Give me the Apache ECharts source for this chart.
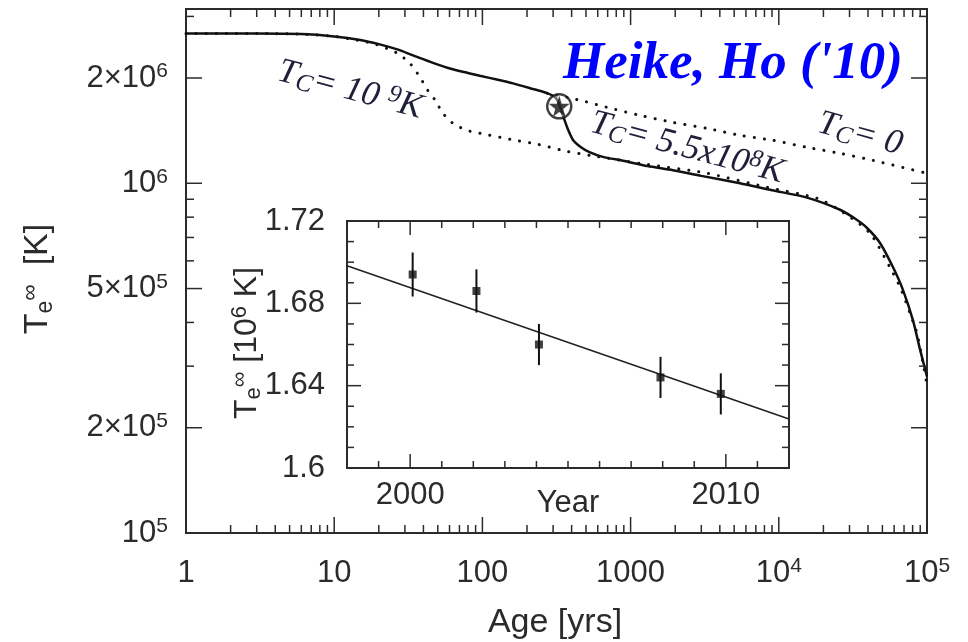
<!DOCTYPE html>
<html>
<head>
<meta charset="utf-8">
<script src="https://cdn.jsdelivr.net/npm/echarts@6/dist/echarts.min.js"></script>
<style>
  html, body { margin: 0; padding: 0; background: #fff; }
  #chart { width: 968px; height: 642px; }
</style>
</head>
<body>
<div id="chart"></div>
<script>
// ---------- main panel: neutron-star cooling curves (age in yr, T_e^inf in K) ----------
const ageRange = [1, 1e5];
const tempRange = [1e5, 3.15e6];

// T_C = 5.5e8 K (solid)
const solidAge  = [1, 3, 6, 10, 15, 20, 27, 34, 45, 58, 75, 96, 125, 161, 210, 273, 310, 330, 350, 372, 409, 460, 532, 650, 889, 1300, 1930, 3000, 5470, 9000, 15500, 25900, 33000, 39400, 48200, 59000, 68900, 80500, 89700, 100000];
const solidTemp = [2.68e6, 2.68e6, 2.67e6, 2.63e6, 2.57e6, 2.50e6, 2.41e6, 2.32e6, 2.22e6, 2.14e6, 2.08e6, 2.03e6, 1.98e6, 1.93e6, 1.87e6, 1.81e6, 1.76e6, 1.68e6, 1.56e6, 1.45e6, 1.33e6, 1.27e6, 1.225e6, 1.19e6, 1.16e6, 1.12e6, 1.09e6, 1.05e6, 1.0e6, 0.955e6, 0.91e6, 0.84e6, 0.79e6, 0.745e6, 0.675e6, 0.575e6, 0.495e6, 0.405e6, 0.335e6, 0.28e6];

// T_C = 1e9 K (dotted)
const tc9Age  = [1, 3, 6, 10, 14, 18.3, 22.7, 26.9, 32.5, 37.9, 42.9, 47.9, 54.2, 63.4, 78.8, 96.4, 154, 237, 372, 532, 1157, 3280, 8320, 18100, 27100, 41200, 56200, 65800, 76800, 85500, 94000, 100000];
const tc9Temp = [2.68e6, 2.68e6, 2.67e6, 2.63e6, 2.57e6, 2.51e6, 2.43e6, 2.35e6, 2.20e6, 2.01e6, 1.84e6, 1.73e6, 1.585e6, 1.483e6, 1.417e6, 1.39e6, 1.336e6, 1.292e6, 1.234e6, 1.202e6, 1.14e6, 1.068e6, 0.974e6, 0.906e6, 0.826e6, 0.72e6, 0.575e6, 0.505e6, 0.425e6, 0.373e6, 0.306e6, 0.265e6];

// T_C = 0 (dotted, no superfluidity)
const tc0Age  = [273, 456, 693, 1157, 1932, 3280, 5470, 9140, 15500, 25900, 43200, 100000];
const tc0Temp = [1.81e6, 1.727e6, 1.649e6, 1.564e6, 1.493e6, 1.436e6, 1.371e6, 1.327e6, 1.267e6, 1.218e6, 1.163e6, 1.068e6];

// Cas A
const casAAge = [330];
const casATemp = [1.66e6];

// main axis ticks
const ageMajorTicks = [1, 10, 100, 1000, 10000, 100000];
const ageTickLabels = ['1', '10', '100', '1000', '10{s|4}', '10{s|5}'];
const ageMinorTicks = [2, 3, 4, 5, 6, 7, 8, 9,
  20, 30, 40, 50, 60, 70, 80, 90,
  200, 300, 400, 500, 600, 700, 800, 900,
  2000, 3000, 4000, 5000, 6000, 7000, 8000, 9000,
  20000, 30000, 40000, 50000, 60000, 70000, 80000, 90000];
const tempMajorTicks = [1e5, 2e5, 5e5, 1e6, 2e6];
const tempTickLabels = ['10{s|5}', '2×10{s|5}', '5×10{s|5}', '10{s|6}', '2×10{s|6}'];
const tempMinorTicks = [3e5, 4e5, 6e5, 7e5, 8e5, 9e5, 3e6];

// ---------- inset: Cas A temperature vs. year (10^6 K) ----------
const yearRange = [1998, 2012];
const insetTempRange = [1.6, 1.72];
const obsYear = [2000.08, 2002.10, 2004.08, 2007.93, 2009.84];
const obsTemp = [1.694, 1.686, 1.660, 1.644, 1.636];
const obsErr  = [0.0107, 0.0105, 0.0100, 0.0100, 0.0100];
const fitYear = [1998, 2012];
const fitTemp = [1.6983, 1.6238];

const yearMajorTicks = [2000, 2010];
const yearTickLabels = ['2000', '2010'];
const yearMinorTicks = [1999, 2001, 2002, 2003, 2004, 2005, 2006, 2007, 2008, 2009, 2011];
const insetTempMajorTicks = [1.6, 1.64, 1.68, 1.72];
const insetTempTickLabels = ['1.6', '1.64', '1.68', '1.72'];
const insetTempMinorTicks = [1.61, 1.62, 1.63, 1.65, 1.66, 1.67, 1.69, 1.70, 1.71];

// ---------- styling ----------
const SANS = 'Liberation Sans';
const SERIF = 'Liberation Serif';
const INK = '#2b2b2b';
const ANNOT = '#20203a';

const TICK_RICH = {
  s: { fontSize: 21, fontFamily: SANS, fill: INK, verticalAlign: 'top', lineHeight: 14 }
};
const TITLE_RICH = {
  m: { fontSize: 34, fontFamily: SANS, fill: INK, lineHeight: 38 },
  b: { fontSize: 23, fontFamily: SANS, fill: INK, verticalAlign: 'bottom', lineHeight: 15 },
  p: { fontSize: 23, fontFamily: SANS, fill: INK, verticalAlign: 'top', lineHeight: 15 }
};
const INSET_TITLE_RICH = {
  m: { fontSize: 32, fontFamily: SANS, fill: INK, lineHeight: 36 },
  b: { fontSize: 22, fontFamily: SANS, fill: INK, verticalAlign: 'bottom', lineHeight: 14 },
  p: { fontSize: 22, fontFamily: SANS, fill: INK, verticalAlign: 'top', lineHeight: 14 }
};
const NOTE_RICH = {
  m: { fontSize: 35, fontFamily: SERIF, fontStyle: 'italic', fill: ANNOT, lineHeight: 38 },
  b: { fontSize: 25, fontFamily: SERIF, fontStyle: 'italic', fill: ANNOT, verticalAlign: 'bottom', lineHeight: 14 },
  p: { fontSize: 25, fontFamily: SERIF, fontStyle: 'italic', fill: ANNOT, verticalAlign: 'top', lineHeight: 14 }
};

const pairs = (xs, ys) => xs.map((x, i) => [x, ys[i]]);

// inward ticks on all four sides of a grid; orient 0 = x tick, 1 = y tick
function frameTicks(gi, xr, yr, xTicks, yTicks, len) {
  const data = xTicks.map(v => [v, yr[0], 0]).concat(yTicks.map(v => [xr[0], v, 1]));
  return {
    type: 'custom', xAxisIndex: gi, yAxisIndex: gi, silent: true, z: 6, clip: false,
    data: data,
    renderItem(params, api) {
      const o = api.value(2);
      const st = { stroke: INK, lineWidth: 1.5 };
      if (o === 0) {
        const a = api.coord([api.value(0), yr[0]]);
        const b = api.coord([api.value(0), yr[1]]);
        return { type: 'group', children: [
          { type: 'line', shape: { x1: a[0], y1: a[1], x2: a[0], y2: a[1] - len }, style: st },
          { type: 'line', shape: { x1: b[0], y1: b[1], x2: b[0], y2: b[1] + len }, style: st }
        ] };
      }
      const a = api.coord([xr[0], api.value(1)]);
      const b = api.coord([xr[1], api.value(1)]);
      return { type: 'group', children: [
        { type: 'line', shape: { x1: a[0], y1: a[1], x2: a[0] + len, y2: a[1] }, style: st },
        { type: 'line', shape: { x1: b[0], y1: b[1], x2: b[0] - len, y2: b[1] }, style: st }
      ] };
    }
  };
}

// tick labels placed at axis coordinates
function tickLabels(gi, pts, texts, offX, offY, align) {
  return {
    type: 'custom', xAxisIndex: gi, yAxisIndex: gi, silent: true, z: 6, clip: false,
    data: pts.map((p, i) => [p[0], p[1], i]),
    renderItem(params, api) {
      const c = api.coord([api.value(0), api.value(1)]);
      return {
        type: 'text', x: c[0] + offX, y: c[1] + offY,
        style: {
          text: texts[api.value(2)], fontSize: 31, fontFamily: SANS, fill: INK, lineHeight: 34,
          textAlign: align, textVerticalAlign: 'middle', rich: TICK_RICH
        }
      };
    }
  };
}

const chart = echarts.init(document.getElementById('chart'), null, { renderer: 'canvas' });

const dotted = { color: '#111', width: 3, type: [0.1, 10], cap: 'round' };

const option = {
  animation: false,
  backgroundColor: '#fff',
  grid: [
    { left: 186, top: 9, width: 741, height: 524, show: true, borderColor: INK, borderWidth: 2, backgroundColor: 'transparent' },
    { left: 347, top: 221, width: 442, height: 247, show: true, borderColor: INK, borderWidth: 2, backgroundColor: 'transparent' }
  ],
  xAxis: [
    { type: 'log', logBase: 10, gridIndex: 0, min: ageRange[0], max: ageRange[1], show: false },
    { type: 'value', gridIndex: 1, min: yearRange[0], max: yearRange[1], show: false }
  ],
  yAxis: [
    { type: 'log', logBase: 10, gridIndex: 0, min: tempRange[0], max: tempRange[1], show: false },
    { type: 'value', gridIndex: 1, min: insetTempRange[0], max: insetTempRange[1], show: false }
  ],
  series: [
    {
      name: 'T_C = 5.5e8 K', type: 'line', xAxisIndex: 0, yAxisIndex: 0, symbol: 'none', smooth: 0.25,
      data: pairs(solidAge, solidTemp), lineStyle: { color: '#111', width: 2.5 }, z: 3
    },
    {
      name: 'T_C = 1e9 K', type: 'line', xAxisIndex: 0, yAxisIndex: 0, symbol: 'none', smooth: 0.25,
      data: pairs(tc9Age, tc9Temp), lineStyle: dotted, z: 2
    },
    {
      name: 'T_C = 0', type: 'line', xAxisIndex: 0, yAxisIndex: 0, symbol: 'none', smooth: 0.25,
      data: pairs(tc0Age, tc0Temp), lineStyle: dotted, z: 2
    },
    {
      name: 'Cas A ring', type: 'scatter', xAxisIndex: 0, yAxisIndex: 0, symbol: 'circle', symbolSize: 24,
      data: pairs(casAAge, casATemp), itemStyle: { color: 'rgba(255,255,255,0.5)', borderColor: '#111', borderWidth: 2.5 }, z: 4, silent: true
    },
    {
      name: 'Cas A', type: 'scatter', xAxisIndex: 0, yAxisIndex: 0,
      symbol: 'path://M50,0 L61,35 L98,35 L68,57 L79,91 L50,70 L21,91 L32,57 L2,35 L39,35 Z',
      symbolSize: 21, data: pairs(casAAge, casATemp), itemStyle: { color: '#111' }, z: 5, silent: true
    },
    frameTicks(0, ageRange, tempRange, ageMajorTicks, tempMajorTicks, 16),
    frameTicks(0, ageRange, tempRange, ageMinorTicks, tempMinorTicks, 8),
    tickLabels(0, ageMajorTicks.map(v => [v, tempRange[0]]), ageTickLabels, 0, 40, 'center'),
    tickLabels(0, tempMajorTicks.map(v => [ageRange[0], v]), tempTickLabels, -18, 0, 'right'),

    // inset
    {
      name: 'fit', type: 'line', xAxisIndex: 1, yAxisIndex: 1, symbol: 'none',
      data: pairs(fitYear, fitTemp), lineStyle: { color: '#222', width: 1.6 }, z: 3
    },
    {
      name: 'error bars', type: 'custom', xAxisIndex: 1, yAxisIndex: 1, silent: true, z: 4,
      data: obsYear.map((y, i) => [y, obsTemp[i], obsErr[i]]),
      renderItem(params, api) {
        const x = api.value(0), t = api.value(1), e = api.value(2);
        const lo = api.coord([x, t - e]);
        const hi = api.coord([x, t + e]);
        return { type: 'line', shape: { x1: lo[0], y1: lo[1], x2: hi[0], y2: hi[1] }, style: { stroke: '#111', lineWidth: 2 } };
      }
    },
    {
      name: 'Cas A data', type: 'scatter', xAxisIndex: 1, yAxisIndex: 1, symbol: 'rect', symbolSize: 8,
      data: pairs(obsYear, obsTemp), itemStyle: { color: '#111' }, z: 5, silent: true
    },
    frameTicks(1, yearRange, insetTempRange, yearMajorTicks, insetTempMajorTicks, 14),
    frameTicks(1, yearRange, insetTempRange, yearMinorTicks, insetTempMinorTicks, 7),
    tickLabels(1, yearMajorTicks.map(v => [v, insetTempRange[0]]), yearTickLabels, 0, 27, 'center'),
    tickLabels(1, insetTempMajorTicks.map(v => [yearRange[0], v]), insetTempTickLabels, -22, 0, 'right')
  ],
  graphic: [
    { type: 'text', x: 733, y: 64, silent: true,
      style: { text: "Heike, Ho ('10)", fontSize: 53, fontFamily: SERIF, fontStyle: 'italic', fontWeight: 'bold', fill: '#0000ff', textAlign: 'center', textVerticalAlign: 'middle' } },
    { type: 'text', x: 555, y: 623, silent: true,
      style: { text: 'Age [yrs]', fontSize: 34, fontFamily: SANS, fill: INK, textAlign: 'center', textVerticalAlign: 'middle' } },
    { type: 'text', x: 568, y: 503, silent: true,
      style: { text: 'Year', fontSize: 31, fontFamily: SANS, fill: INK, textAlign: 'center', textVerticalAlign: 'middle' } },
    { type: 'text', x: 38, y: 279, rotation: Math.PI / 2, silent: true,
      style: { text: '{m|T}{b|e}{p|∞}{m|  [K]}', rich: TITLE_RICH, textAlign: 'center', textVerticalAlign: 'middle' } },
    { type: 'text', x: 247, y: 343, rotation: Math.PI / 2, silent: true,
      style: { text: '{m|T}{b|e}{p|∞}{m| [10}{p|6}{m| K]}', rich: INSET_TITLE_RICH, textAlign: 'center', textVerticalAlign: 'middle' } },
    { type: 'text', x: 350, y: 90, rotation: -0.26, silent: true,
      style: { text: '{m|T}{b|C}{m|= 10 }{p|9}{m|K}', rich: NOTE_RICH, textAlign: 'center', textVerticalAlign: 'middle' } },
    { type: 'text', x: 687, y: 148, rotation: -0.26, silent: true,
      style: { text: '{m|T}{b|C}{m|= 5.5x10}{p|8}{m|K}', rich: NOTE_RICH, textAlign: 'center', textVerticalAlign: 'middle' } },
    { type: 'text', x: 860, y: 134, rotation: -0.27, silent: true,
      style: { text: '{m|T}{b|C}{m|= 0}', rich: NOTE_RICH, textAlign: 'center', textVerticalAlign: 'middle' } }
  ]
};

chart.setOption(option);
</script>
</body>
</html>
